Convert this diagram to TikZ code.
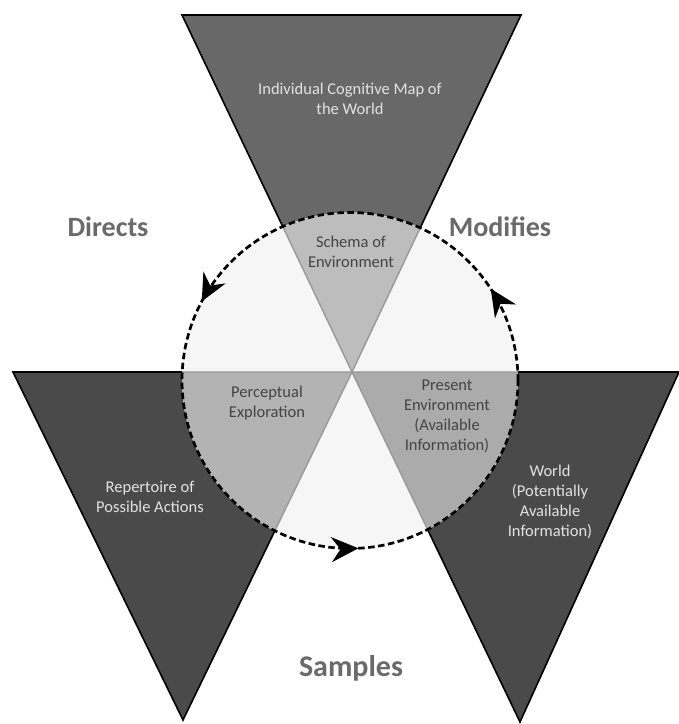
\documentclass[tikz,border=0pt]{standalone}
\usepackage{fontspec}
\setmainfont{Carlito}
\usetikzlibrary{arrows.meta,decorations.markings}
\definecolor{topdark}{HTML}{686868}
\definecolor{botdark}{HTML}{4A4A4A}
\definecolor{circbg}{HTML}{F6F6F6}
\definecolor{secA}{HTML}{BDBDBD}
\definecolor{secB}{HTML}{B3B3B3}
\definecolor{secC}{HTML}{ABABAB}
\definecolor{edgegray}{HTML}{999999}
\definecolor{darktext}{HTML}{E2E2E2}
\definecolor{lighttext}{HTML}{444444}
\definecolor{bigtext}{HTML}{6A6A6A}
\begin{document}
\begin{tikzpicture}[x=1pt,y=1pt,
  ondark/.style={align=center,text=darktext,font=\fontsize{16.5}{20}\selectfont},
  onlight/.style={align=center,text=lighttext,font=\fontsize{16.5}{20}\selectfont},
  bigword/.style={text=bigtext,font=\fontsize{28}{32}\selectfont\bfseries},
  tri/.style={draw=black,line width=1.6pt,line join=miter},
  cyc/.style={draw=black,line width=2.7pt,dash pattern=on 6.5pt off 3.5pt,
    postaction={decorate,decoration={markings,
      mark=at position 0.092 with {\arrow[solid]{Stealth[length=27pt,width=25pt,inset=9pt]}},
      mark=at position 0.422 with {\arrow[solid]{Stealth[length=27pt,width=25pt,inset=9pt]}},
      mark=at position 0.758 with {\arrow[solid]{Stealth[length=27pt,width=25pt,inset=9pt]}}}}}
]
\useasboundingbox (0,0) rectangle (679,724);
\fill[white] (0,0) rectangle (679,724);
% triangle corners
\coordinate (A1) at (182,709); \coordinate (A2) at (521,709); \coordinate (O) at (352,352);
\coordinate (B1) at (13,352); \coordinate (B3) at (183,4);
\coordinate (C2) at (679,352); \coordinate (C3) at (520,2);
\coordinate (M) at (350,343.5);
% outer triangles
\filldraw[tri,fill=topdark] (A1) -- (A2) -- (O) -- cycle;
\filldraw[tri,fill=botdark] (B1) -- (O) -- (B3) -- cycle;
\filldraw[tri,fill=botdark] (O) -- (C2) -- (C3) -- cycle;
% circle interior
\fill[circbg] (M) circle[radius=168];
\begin{scope}
  \clip (M) circle[radius=168];
  \filldraw[fill=secA,draw=edgegray,line width=1.4pt] (A1) -- (A2) -- (O) -- cycle;
  \filldraw[fill=secB,draw=edgegray,line width=1.4pt] (B1) -- (O) -- (B3) -- cycle;
  \filldraw[fill=secC,draw=edgegray,line width=1.4pt] (O) -- (C2) -- (C3) -- cycle;
\end{scope}
% dashed cycle with arrows
\path[cyc] (M) circle[radius=168];
% labels
\node[ondark] (map) at (350,625.5) {Individual Cognitive Map of\\the World};
\node[onlight] (schema) at (351,472) {Schema of\\Environment};
\node[onlight] (percept) at (267,321) {Perceptual\\Exploration};
\node[onlight] (present) at (447,307.5) {Present\\Environment\\(Available\\Information)};
\node[ondark] (world) at (550,222.5) {World\\(Potentially\\Available\\Information)};
\node[ondark] (repert) at (150,227) {Repertoire of\\Possible Actions};
\node[bigword] (directs) at (108,497) {Directs};
\node[bigword] (modifies) at (500,497) {Modifies};
\node[bigword,font=\fontsize{30}{34}\selectfont\bfseries] (samples) at (351,56) {Samples};
\end{tikzpicture}
\end{document}
